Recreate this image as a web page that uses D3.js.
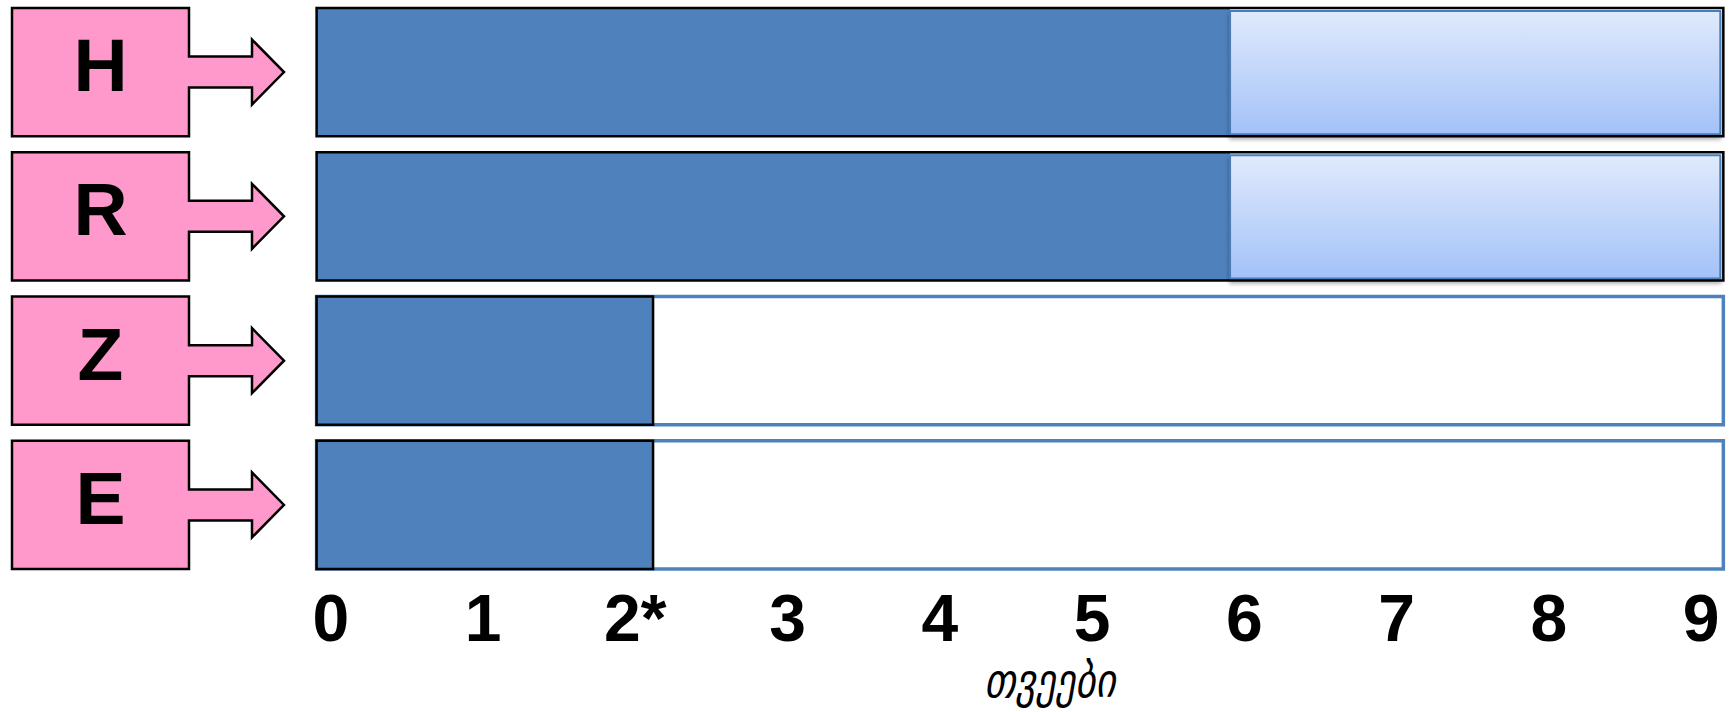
<!DOCTYPE html>
<html><head><meta charset="utf-8">
<script src="https://cdn.jsdelivr.net/npm/d3@7"></script>
<style>html,body{margin:0;padding:0;background:#fff;} svg{display:block;}</style>
</head><body>
<svg id="chart" width="1731" height="712"></svg>
<script>
// ---- data ----
const categories = ["H", "R", "Z", "E"];
const solidEnd = [5.91, 5.91, 2.12, 2.12];      // dark segment end (months)
const shadedEnd = [9.13, 9.13, null, null];     // light extension end (months)
const trackStart = -0.09;
const trackEnd = 9.15;
const tickValues = [0, 1, 2, 3, 4, 5, 6, 7, 8, 9];
const tickLabels = ["0", "1", "2*", "3", "4", "5", "6", "7", "8", "9"];
const axisTitle = "თვეები";

// ---- layout ----
const W = 1731, H = 712;
const svg = d3.select("#chart").attr("width", W).attr("height", H);
svg.append("rect").attr("width", W).attr("height", H).attr("fill", "#fff");

const x = d3.scaleLinear().domain([0, 9]).range([330.3, 1700.5]);
const y = d3.scaleBand().domain(categories).range([8, 569]).paddingInner(0.111).paddingOuter(0);

const defs = svg.append("defs");
const grad = defs.append("linearGradient").attr("id", "lightGrad")
  .attr("x1", 0).attr("y1", 0).attr("x2", 0).attr("y2", 1);
grad.append("stop").attr("offset", "0%").attr("stop-color", "#e0eafc");
grad.append("stop").attr("offset", "100%").attr("stop-color", "#a3c2f8");
const f = defs.append("filter").attr("id", "shadow")
  .attr("x", "-5%").attr("y", "-20%").attr("width", "110%").attr("height", "140%");
f.append("feDropShadow").attr("dx", 0).attr("dy", 4).attr("stdDeviation", 2)
  .attr("flood-color", "#000").attr("flood-opacity", 0.35);

const DARK = "#4f81bd";
const rows = categories.map((c, i) => ({ c, solid: solidEnd[i], shaded: shadedEnd[i] }));

const g = svg.selectAll("g.row").data(rows).join("g").attr("class", "row");

// pink labelled arrows
const boxL = 12, boxR = 189, shaftR = 252, tipX = 284, shaftHalf = 15.5, headHalf = 32.5;
g.append("path")
  .attr("d", d => {
    const t = y(d.c), b = t + y.bandwidth(), cy = t + y.bandwidth() / 2;
    return `M${boxL},${t}H${boxR}V${cy - shaftHalf}H${shaftR}V${cy - headHalf}L${tipX},${cy}L${shaftR},${cy + headHalf}V${cy + shaftHalf}H${boxR}V${b}H${boxL}Z`;
  })
  .attr("fill", "#ff99cc").attr("stroke", "#000").attr("stroke-width", 2.5)
  .attr("stroke-linejoin", "miter");
g.append("text")
  .attr("x", (boxL + boxR) / 2)
  .attr("y", d => y(d.c) + 83)
  .attr("text-anchor", "middle")
  .attr("font-family", "'Liberation Sans', Arial, sans-serif")
  .attr("font-weight", "bold").attr("font-size", 75)
  .text(d => d.c);

// bars
g.each(function (d) {
  const s = d3.select(this);
  const t = y(d.c), h = y.bandwidth();
  if (d.shaded != null) {
    s.append("rect").attr("x", x(trackStart)).attr("y", t)
      .attr("width", x(d.solid) - x(trackStart)).attr("height", h)
      .attr("fill", DARK);
    s.append("rect").attr("x", x(d.solid)).attr("y", t + 3)
      .attr("width", x(d.shaded) - x(d.solid)).attr("height", h - 5)
      .attr("fill", "url(#lightGrad)").attr("stroke", "#4a7ebb").attr("stroke-width", 2)
      .attr("filter", "url(#shadow)");
    s.append("rect").attr("x", x(trackStart)).attr("y", t)
      .attr("width", x(trackEnd) - x(trackStart)).attr("height", h)
      .attr("fill", "none").attr("stroke", "#000").attr("stroke-width", 2.5);
  } else {
    s.append("rect").attr("x", x(trackStart)).attr("y", t)
      .attr("width", x(trackEnd) - x(trackStart)).attr("height", h)
      .attr("fill", "#fff").attr("stroke", DARK).attr("stroke-width", 3.5);
    s.append("rect").attr("x", x(trackStart)).attr("y", t)
      .attr("width", x(d.solid) - x(trackStart)).attr("height", h)
      .attr("fill", DARK).attr("stroke", "#000").attr("stroke-width", 2.5);
  }
});

// axis tick labels
const axis = d3.axisBottom(x).tickValues(tickValues).tickFormat((v, i) => tickLabels[i]).tickSize(0).tickPadding(0);
const ag = svg.append("g").attr("transform", "translate(0,641)").call(axis);
ag.select(".domain").remove();
ag.selectAll("text")
  .attr("y", 0).attr("dy", 0)
  .attr("fill", "#000")
  .attr("font-family", "'Liberation Sans', Arial, sans-serif")
  .attr("font-weight", "bold").attr("font-size", 66);

svg.append("text")
  .attr("transform", "translate(1050,697) scale(0.83,1)")
  .attr("text-anchor", "middle")
  .attr("font-family", "'DejaVu Sans', sans-serif")
  .attr("font-style", "italic").attr("font-size", 47)
  .text(axisTitle);
</script>
</body></html>
